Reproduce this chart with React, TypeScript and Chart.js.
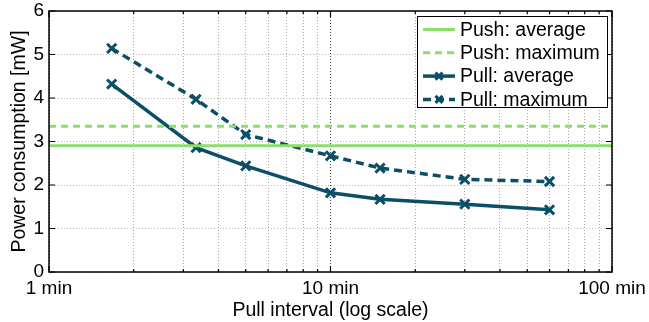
import React, { useEffect, useRef } from 'react';
import { Chart, registerables } from 'chart.js';

Chart.register(...registerables);

// ---- data ----
const pullIntervals = [1.67, 3.33, 5, 10, 15, 30, 60];
const pullAverage = [4.32, 2.86, 2.44, 1.82, 1.67, 1.56, 1.43];
const pullMaximum = [5.14, 3.97, 3.16, 2.67, 2.39, 2.13, 2.08];
const pushAverage = 2.9;
const pushMaximum = 3.35;
const xRange = [1, 100];
const yRange = [0, 6];
const xMajorTicks = [1, 10, 100];
const xGridTicks = [1, 2, 3, 4, 5, 6, 7, 8, 9, 10, 20, 30, 40, 50, 60, 70, 80, 90, 100];
const yTicks = [0, 1, 2, 3, 4, 5, 6];
const seriesLabels = ['Push: average', 'Push: maximum', 'Pull: average', 'Pull: maximum'];
const xTitle = 'Pull interval (log scale)';
const yTitle = 'Power consumption [mW]';

const FONT = '"Liberation Sans", Arial, Helvetica, sans-serif';
const GREEN = '#8ade6a';
const TEAL = '#0a4f66';

function drawCross(ctx: CanvasRenderingContext2D, cx: number, cy: number, h: number) {
  ctx.beginPath();
  ctx.moveTo(cx - h, cy - h);
  ctx.lineTo(cx + h, cy + h);
  ctx.moveTo(cx - h, cy + h);
  ctx.lineTo(cx + h, cy - h);
  ctx.stroke();
}

const framePlugin = {
  id: 'frameAndLegend',
  afterDatasetsDraw(chart: any) {
    const { ctx, chartArea: a, scales } = chart;
    ctx.save();
    ctx.setLineDash([]);
    ctx.strokeStyle = '#000';
    ctx.lineWidth = 1.5;
    ctx.strokeRect(a.left, a.top, a.right - a.left, a.bottom - a.top);
    ctx.lineWidth = 1.2;
    ctx.beginPath();
    for (const v of yTicks) {
      const py = scales.y.getPixelForValue(v);
      ctx.moveTo(a.left, py);
      ctx.lineTo(a.left + 6, py);
      ctx.moveTo(a.right, py);
      ctx.lineTo(a.right - 6, py);
    }
    for (const v of xGridTicks) {
      const px = scales.x.getPixelForValue(v);
      const len = xMajorTicks.includes(v) ? 6 : 3;
      ctx.moveTo(px, a.bottom);
      ctx.lineTo(px, a.bottom - len);
      ctx.moveTo(px, a.top);
      ctx.lineTo(px, a.top + len);
    }
    ctx.stroke();

    // legend
    const w = 190;
    const h = 91;
    const left = a.right - 195;
    const top = a.top + 5;
    ctx.fillStyle = '#fff';
    ctx.fillRect(left, top, w, h);
    ctx.strokeStyle = '#000';
    ctx.lineWidth = 1;
    ctx.strokeRect(left + 0.5, top + 0.5, w, h);
    ctx.font = `19.5px ${FONT}`;
    ctx.textBaseline = 'middle';
    ctx.textAlign = 'left';
    chart.data.datasets.forEach((ds: any, i: number) => {
      const y = top + 13.5 + i * 23.3;
      ctx.strokeStyle = ds.borderColor;
      ctx.lineWidth = ds.borderWidth;
      ctx.setLineDash(ds.borderDash || []);
      ctx.beginPath();
      ctx.moveTo(left + 6, y);
      ctx.lineTo(left + 38, y);
      ctx.stroke();
      ctx.setLineDash([]);
      if (ds.pointRadius > 0) {
        ctx.lineWidth = 3;
        drawCross(ctx, left + 22, y, 3.5);
      }
      ctx.fillStyle = '#000';
      ctx.fillText(ds.label, left + 43, y + 1);
    });
    ctx.restore();
  },
};

export default function App() {
  const ref = useRef<HTMLCanvasElement>(null);
  useEffect(() => {
    if (!ref.current) return;
    const chart = new Chart(ref.current, {
      type: 'line',
      data: {
        datasets: [
          {
            label: seriesLabels[0],
            data: xRange.map((x) => ({ x, y: pushAverage })),
            borderColor: GREEN,
            backgroundColor: GREEN,
            borderWidth: 3,
            pointRadius: 0,
          },
          {
            label: seriesLabels[1],
            data: xRange.map((x) => ({ x, y: pushMaximum })),
            borderColor: GREEN,
            backgroundColor: GREEN,
            borderWidth: 3,
            borderDash: [7, 5],
            pointRadius: 0,
          },
          {
            label: seriesLabels[2],
            data: pullIntervals.map((x, i) => ({ x, y: pullAverage[i] })),
            borderColor: TEAL,
            backgroundColor: TEAL,
            borderWidth: 3.5,
            pointStyle: 'crossRot',
            pointRadius: 6.5,
            pointBorderWidth: 3,
            pointBorderColor: TEAL,
          },
          {
            label: seriesLabels[3],
            data: pullIntervals.map((x, i) => ({ x, y: pullMaximum[i] })),
            borderColor: TEAL,
            backgroundColor: TEAL,
            borderWidth: 3.5,
            borderDash: [8, 5],
            pointStyle: 'crossRot',
            pointRadius: 6.5,
            pointBorderWidth: 3,
            pointBorderColor: TEAL,
          },
        ] as any,
      },
      options: {
        responsive: false,
        animation: false,
        devicePixelRatio: 1,
        layout: { padding: { left: 0, right: 37, top: 11, bottom: 0 } },
        plugins: { legend: { display: false }, tooltip: { enabled: false } },
        elements: { line: { tension: 0 } },
        scales: {
          x: {
            type: 'logarithmic',
            min: xRange[0],
            max: xRange[1],
            afterBuildTicks: (scale: any) => {
              scale.ticks = xGridTicks.map((value) => ({ value }));
            },
            afterFit: (scale: any) => {
              scale.height = 50;
              scale.paddingLeft = 0;
              scale.paddingRight = 0;
            },
            ticks: {
              autoSkip: false,
              maxRotation: 0,
              padding: 5,
              color: '#000',
              font: { family: FONT, size: 19 },
              callback: (value: any) => (xMajorTicks.includes(Number(value)) ? `${value} min` : ''),
            },
            grid: {
              drawTicks: false,
              lineWidth: 1,
              color: (c: any) => (c.tick && xMajorTicks.includes(c.tick.value) ? '#444' : '#aaa'),
            },
            border: { display: false, dash: [1, 2] },
            title: {
              display: true,
              text: xTitle,
              color: '#000',
              font: { family: FONT, size: 19.5 },
              padding: { top: 0, bottom: 0 },
            },
          },
          y: {
            type: 'linear',
            min: yRange[0],
            max: yRange[1],
            afterBuildTicks: (scale: any) => {
              scale.ticks = yTicks.map((value) => ({ value }));
            },
            afterFit: (scale: any) => {
              scale.width = 49;
              scale.paddingTop = 0;
              scale.paddingBottom = 0;
            },
            ticks: {
              padding: 5,
              color: '#000',
              font: { family: FONT, size: 19 },
            },
            grid: { drawTicks: false, lineWidth: 1, color: '#bbb' },
            border: { display: false, dash: [1, 2] },
            title: {
              display: true,
              text: yTitle,
              color: '#000',
              font: { family: FONT, size: 19.5 },
              padding: { top: 8, bottom: 0 },
            },
          },
        },
      } as any,
      plugins: [framePlugin],
    });
    return () => chart.destroy();
  }, []);
  return (
    <div style={{ position: 'fixed', left: 0, top: 0, width: 649, height: 322, background: '#fff' }}>
      <canvas ref={ref} width={649} height={322} />
    </div>
  );
}
